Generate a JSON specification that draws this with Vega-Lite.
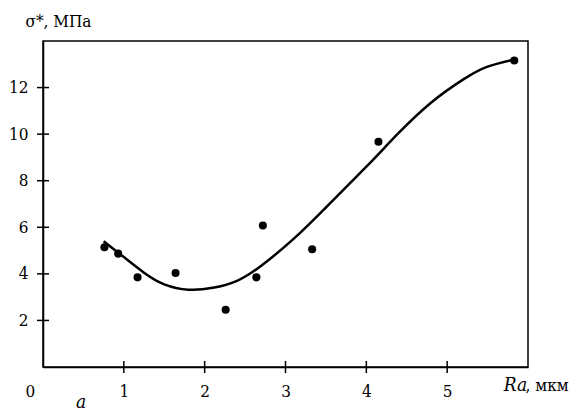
{
  "$schema": "https://vega.github.io/schema/vega-lite/v6.json",
  "autosize": "none",
  "width": 485,
  "height": 326,
  "padding": {"left": 43, "top": 41, "right": 57, "bottom": 46},
  "background": "white",
  "config": {
    "view": {"stroke": "black", "strokeWidth": 1.5},
    "font": "DejaVu Serif Condensed",
    "axis": {
      "domainColor": "black",
      "domainWidth": 1.5,
      "labelColor": "black",
      "labelFont": "DejaVu Serif Condensed",
      "labelFontSize": 17,
      "grid": false,
      "ticks": false
    }
  },
  "datasets": {
    "points": [
      {"ra": 0.76, "sigma": 5.14},
      {"ra": 0.93, "sigma": 4.87},
      {"ra": 1.17, "sigma": 3.85},
      {"ra": 1.64, "sigma": 4.04},
      {"ra": 2.26, "sigma": 2.46},
      {"ra": 2.64, "sigma": 3.85},
      {"ra": 2.72, "sigma": 6.08},
      {"ra": 3.33, "sigma": 5.06},
      {"ra": 4.15, "sigma": 9.67},
      {"ra": 5.83, "sigma": 13.16}
    ],
    "curve": [
      {"ra": 0.75, "sigma": 5.4},
      {"ra": 1.0, "sigma": 4.72},
      {"ra": 1.25, "sigma": 4.05},
      {"ra": 1.5, "sigma": 3.55},
      {"ra": 1.8, "sigma": 3.32},
      {"ra": 2.1, "sigma": 3.4},
      {"ra": 2.4, "sigma": 3.7},
      {"ra": 2.7, "sigma": 4.35},
      {"ra": 3.1, "sigma": 5.5},
      {"ra": 3.5, "sigma": 6.85},
      {"ra": 4.0, "sigma": 8.6},
      {"ra": 4.4, "sigma": 10.05},
      {"ra": 4.8, "sigma": 11.35},
      {"ra": 5.2, "sigma": 12.35},
      {"ra": 5.5, "sigma": 12.9},
      {"ra": 5.86, "sigma": 13.23}
    ],
    "xticks": [{"v": 1}, {"v": 2}, {"v": 3}, {"v": 4}, {"v": 5}],
    "yticks": [{"v": 2}, {"v": 4}, {"v": 6}, {"v": 8}, {"v": 10}, {"v": 12}]
  },
  "layer": [
    {
      "data": {"name": "curve"},
      "mark": {"type": "line", "color": "black", "strokeWidth": 2.5, "interpolate": "natural"},
      "encoding": {
        "x": {
          "field": "ra", "type": "quantitative",
          "scale": {"domain": [0, 6], "nice": false, "zero": false},
          "axis": {
            "values": [0, 1, 2, 3, 4, 5],
            "format": "d",
            "title": null,
            "labelPadding": 16,
            "labelOffset": {"condition": {"test": "datum.value === 0", "value": -18}, "value": 0}
          }
        },
        "y": {
          "field": "sigma", "type": "quantitative",
          "scale": {"domain": [0, 14], "nice": false},
          "axis": {
            "values": [2, 4, 6, 8, 10, 12],
            "format": "d",
            "title": "σ*, МПа",
            "titleAngle": 0,
            "titleAlign": "left",
            "titleBaseline": "alphabetic",
            "titleX": -18,
            "titleY": -15,
            "titleFont": "DejaVu Serif Condensed",
            "titleFontSize": 17,
            "titleFontWeight": "normal",
            "titleColor": "black",
            "labelPadding": 15
          }
        }
      }
    },
    {
      "data": {"name": "xticks"},
      "mark": {"type": "tick", "color": "black", "orient": "vertical", "size": 12, "thickness": 1.5, "opacity": 1},
      "encoding": {
        "x": {"field": "v", "type": "quantitative"},
        "y": {"datum": 0}
      }
    },
    {
      "data": {"name": "yticks"},
      "mark": {"type": "tick", "color": "black", "orient": "horizontal", "size": 12, "thickness": 1.5, "opacity": 1},
      "encoding": {
        "y": {"field": "v", "type": "quantitative"},
        "x": {"datum": 0}
      }
    },
    {
      "data": {"name": "points"},
      "mark": {"type": "point", "filled": true, "color": "black", "opacity": 1, "size": 65},
      "encoding": {
        "x": {"field": "ra", "type": "quantitative"},
        "y": {"field": "sigma", "type": "quantitative"}
      }
    },
    {
      "data": {"values": [{}]},
      "mark": {"type": "text", "font": "DejaVu Serif Condensed", "fontSize": 19, "fontStyle": "italic", "align": "left", "baseline": "alphabetic", "color": "black"},
      "encoding": {"x": {"datum": 5.7}, "y": {"datum": -1.03}, "text": {"value": "Ra"}}
    },
    {
      "data": {"values": [{}]},
      "mark": {"type": "text", "font": "DejaVu Serif Condensed", "fontSize": 17, "align": "left", "baseline": "alphabetic", "color": "black"},
      "encoding": {"x": {"datum": 5.97}, "y": {"datum": -1.03}, "text": {"value": ", мкм"}}
    },
    {
      "data": {"values": [{}]},
      "mark": {"type": "text", "font": "DejaVu Serif Condensed", "fontSize": 19, "fontStyle": "italic", "align": "center", "baseline": "alphabetic", "color": "black"},
      "encoding": {"x": {"datum": 0.47}, "y": {"datum": -1.75}, "text": {"value": "a"}}
    }
  ]
}
